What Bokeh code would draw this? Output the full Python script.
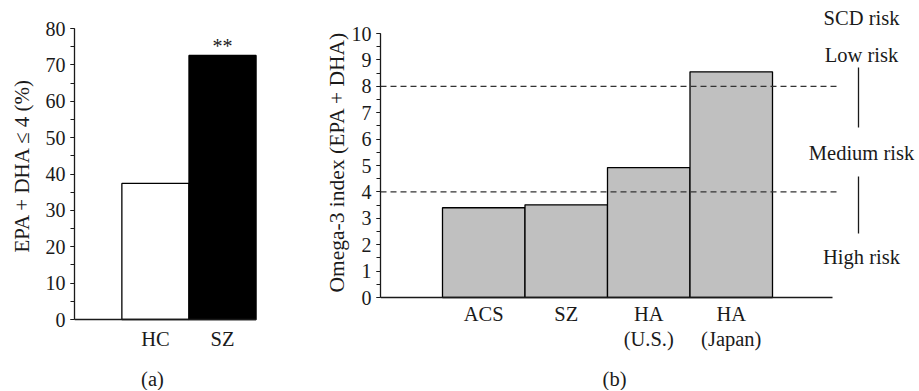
from bokeh.plotting import figure
from bokeh.layouts import row
from bokeh.models import Range1d, SingleIntervalTicker, Title
from bokeh.core.properties import value
from bokeh.embed import file_html
from bokeh.resources import INLINE

FONT = "Liberation Serif"
INK = "#1a1a1a"

# ---------------- data ----------------
# Panel (a): share of subjects with EPA + DHA <= 4 (%)
a_groups = ["HC", "SZ"]
a_values = [37.4, 72.6]
a_fill = ["white", "black"]
a_signif = ["", "**"]

# Panel (b): Omega-3 index (EPA + DHA)
b_groups = ["ACS", "SZ", "HA\n(U.S.)", "HA\n(Japan)"]
b_values = [3.40, 3.51, 4.92, 8.55]
b_thresholds = [8, 4]
risk_labels = ["SCD risk", "Low risk", "Medium risk", "High risk"]

# ---------------- layout constants (page pixels) ----------------
ORIGIN = 1          # page pixel of the canvas top/left
PAGE_H = 391
H = PAGE_H - ORIGIN


def style_y(p, interval, bounds):
    p.grid.visible = False
    p.outline_line_color = None
    ax = p.yaxis
    ax.ticker = SingleIntervalTicker(interval=interval, num_minor_ticks=2)
    ax.bounds = bounds
    ax.axis_line_color = INK
    ax.axis_line_width = 1.3
    ax.major_label_text_font = FONT
    ax.major_label_text_font_size = "20px"
    ax.major_label_text_color = INK
    ax.major_tick_line_color = INK
    ax.minor_tick_line_color = INK
    ax.major_tick_line_width = 1.2
    ax.minor_tick_line_width = 1.2
    ax.major_tick_out = 4
    ax.major_tick_in = 0
    ax.minor_tick_out = 4
    ax.minor_tick_in = 0
    ax.major_label_standoff = 5


# ---------------- panel (a) ----------------
a_frame_left = 72
a_width = 300 - ORIGIN
a_zero_px = 320
a_ppu_y = 291 / 80
a_ppu_x = 68
a_x = [i + 1 for i in range(len(a_groups))]
a_x0 = 0.5 - (120 - a_frame_left) / a_ppu_x
a_fw = a_width - (a_frame_left - ORIGIN)
pa = figure(width=a_width, height=H,
            min_border_left=a_frame_left - ORIGIN, min_border_right=0,
            min_border_top=0, min_border_bottom=0,
            x_range=Range1d(a_x0, a_x0 + a_fw / a_ppu_x),
            y_range=Range1d(-(PAGE_H - a_zero_px) / a_ppu_y, (a_zero_px - ORIGIN) / a_ppu_y),
            x_axis_location=None,
            output_backend="svg", toolbar_location=None)
style_y(pa, 10, (0, 80))
pa.vbar(x=a_x, top=a_values, bottom=0, width=1.0,
        fill_color=a_fill, line_color="black", line_width=1.3)
# baseline (x axis line)
pa.segment(x0=[a_x0], x1=[len(a_groups) + 0.5], y0=[0], y1=[0],
           line_color=INK, line_width=1.3)
pa.text(x=a_x, y=a_values, text=a_signif, text_align="center",
        text_baseline="alphabetic", y_offset=-9,
        text_font=value(FONT), text_font_size="20px", text_color=INK)
pa.text(x=a_x, y=[0] * len(a_groups), text=a_groups, text_align="center",
        text_baseline="top", y_offset=8,
        text_font=value(FONT), text_font_size="20.5px", text_color=INK)
pa.text(x=[a_x0 + (151 - a_frame_left) / a_ppu_x], y=[-(379 - a_zero_px) / a_ppu_y],
        text=["(a)"], text_align="center", text_baseline="middle",
        text_font=value(FONT), text_font_size="20.5px", text_color=INK)
pa.add_layout(Title(text="EPA + DHA \u2264 4 (%)", align="left",
                    offset=PAGE_H - 253, vertical_align="middle",
                    text_font=FONT, text_font_size="21px", text_font_style="normal",
                    text_color=INK, standoff=16), "left")

# ---------------- panel (b) ----------------
b_frame_left = 381
b_start = 300
b_width = 919 - b_start
b_zero_px = 298
b_ppu_x = 82.5
b_ppu_y = 26.4
b_x = [i + 1 for i in range(len(b_groups))]
b_x0 = 0.5 - (443 - b_frame_left) / b_ppu_x
b_fw = b_width - (b_frame_left - b_start)
pb = figure(width=b_width, height=H,
            min_border_left=b_frame_left - b_start, min_border_right=0,
            min_border_top=0, min_border_bottom=0,
            x_range=Range1d(b_x0, b_x0 + b_fw / b_ppu_x),
            y_range=Range1d(-(PAGE_H - b_zero_px) / b_ppu_y, (b_zero_px - ORIGIN) / b_ppu_y),
            x_axis_location=None,
            output_backend="svg", toolbar_location=None)
style_y(pb, 1, (0, 10))
pb.vbar(x=b_x, top=b_values, bottom=0, width=1.0,
        fill_color="#c0c0c0", line_color="black", line_width=1.3)
b_axis_end = b_x0 + (833 - b_frame_left) / b_ppu_x
b_dash_end = b_x0 + (837 - b_frame_left) / b_ppu_x
pb.segment(x0=[b_x0], x1=[b_axis_end], y0=[0], y1=[0],
           line_color=INK, line_width=1.3)
pb.segment(x0=[b_x0] * len(b_thresholds), x1=[b_dash_end] * len(b_thresholds),
           y0=b_thresholds, y1=b_thresholds,
           line_color="#333333", line_width=1.2, line_dash="6 4")
pb.text(x=b_x, y=[0] * len(b_groups), text=b_groups, text_align="center",
        text_baseline="top", y_offset=5, text_line_height=1.15,
        text_font=value(FONT), text_font_size="20.5px", text_color=INK)
pb.text(x=[b_x0 + (615 - b_frame_left) / b_ppu_x], y=[-(379 - b_zero_px) / b_ppu_y],
        text=["(b)"], text_align="center", text_baseline="middle",
        text_font=value(FONT), text_font_size="20.5px", text_color=INK)

# risk annotations on the right
risk_x = b_x0 + (862 - b_frame_left) / b_ppu_x
risk_y = [(b_zero_px - py) / b_ppu_y for py in (18, 55, 153, 257)]
pb.text(x=[risk_x] * len(risk_labels), y=risk_y, text=risk_labels,
        text_align="center", text_baseline="middle",
        text_font=value(FONT), text_font_size="20.5px", text_color=INK)
bar_x = b_x0 + (859 - b_frame_left) / b_ppu_x
seg_y0 = [(b_zero_px - py) / b_ppu_y for py in (68, 177)]
seg_y1 = [(b_zero_px - py) / b_ppu_y for py in (128, 234)]
pb.segment(x0=[bar_x, bar_x], x1=[bar_x, bar_x], y0=seg_y0, y1=seg_y1,
           line_color=INK, line_width=1.3)

pb.add_layout(Title(text="Omega-3 index (EPA + DHA)", align="left",
                    offset=PAGE_H - 293,
                    text_font=FONT, text_font_size="21.5px", text_font_style="normal",
                    text_color=INK, standoff=0), "left")

layout = row(pa, pb, spacing=0)
open("out.html", "w").write(file_html(layout, INLINE))
